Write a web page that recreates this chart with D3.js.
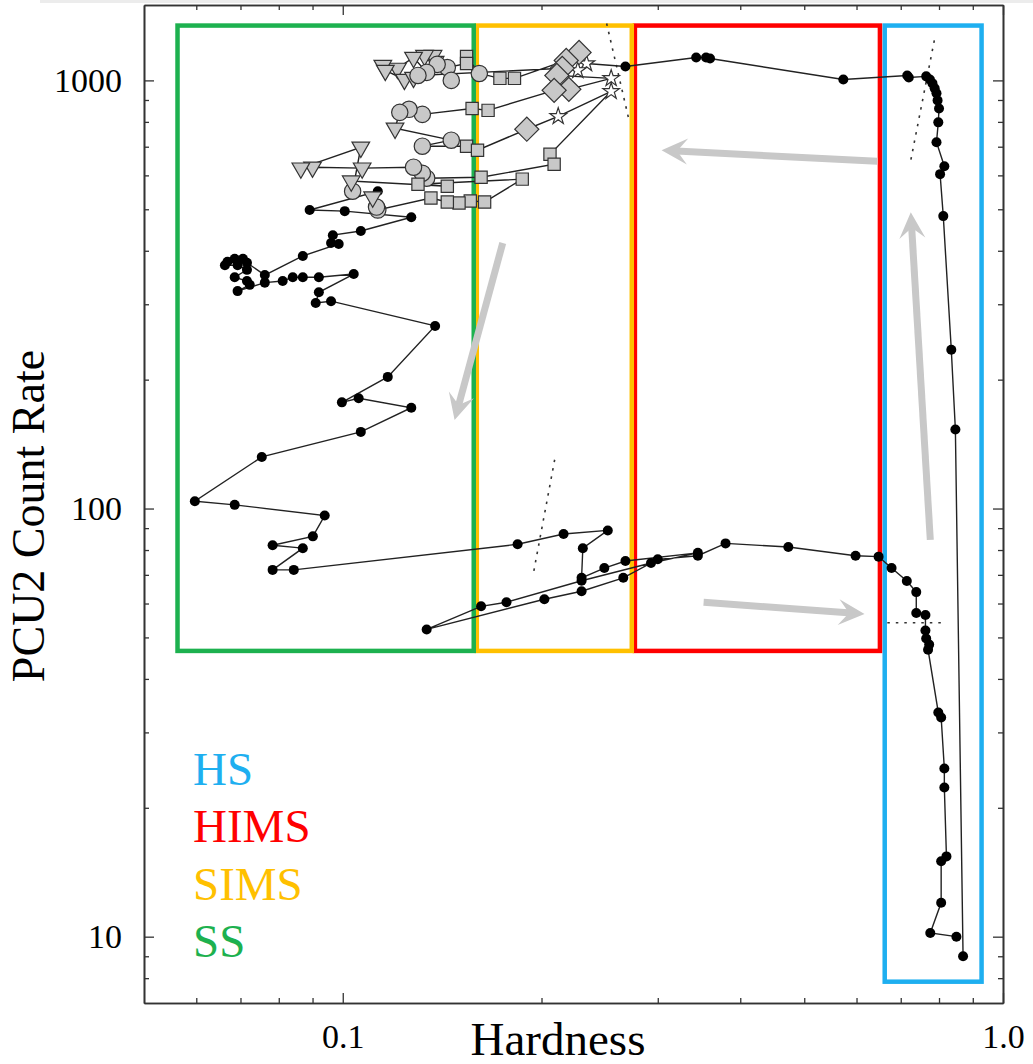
<!DOCTYPE html>
<html>
<head>
<meta charset="utf-8">
<script src="https://cdn.jsdelivr.net/npm/d3@7"></script>
<style>
  body { margin: 0; background: #fff; }
  svg { display: block; font-family: "Liberation Serif", "Times New Roman", serif; }
</style>
</head>
<body>
<div id="chart"></div>
<script>
// ---------- data: [hardness, PCU2 count rate] in time order ----------
const hsRise = [
  [0.870, 9.0], [0.847, 153], [0.835, 235], [0.812, 482], [0.803, 604], [0.815, 630],
  [0.793, 717], [0.798, 798], [0.800, 860], [0.796, 898], [0.793, 933], [0.788, 958],
  [0.782, 984], [0.775, 1005], [0.765, 1022]
];
const himsRise = [
  [0.720, 1016], [0.716, 1027], [0.573, 1005], [0.360, 1125], [0.355, 1131], [0.343, 1131], [0.268, 1078]
];
// soft / intermediate observations with their marker type
const softStates = [
  [0.234, 1095, "star"], [0.227, 1055, "star"], [0.228, 1162, "dia"], [0.218, 1113, "dia"],
  [0.182, 1011, "sq"], [0.173, 1011, "sq"], [0.161, 1038, "circ"], [0.154, 1137, "sq"],
  [0.154, 1095, "sq"], [0.144, 1072, "circ"], [0.146, 1000, "circ"], [0.138, 1107, "tri"],
  [0.137, 1143, "tri"], [0.133, 1143, "tri"], [0.139, 1090, "circ"], [0.134, 1044, "circ"],
  [0.128, 1131, "tri"], [0.121, 1067, "tri"], [0.115, 1084, "tri"], [0.116, 1055, "tri"],
  [0.124, 1005, "tri"], [0.128, 1016, "tri"], [0.130, 1027, "circ"], [0.215, 1067, "dia"],
  [0.211, 1027, "dia"], [0.255, 1011, "star"], [0.220, 953, "dia"], [0.209, 948, "dia"],
  [0.166, 851, "sq"], [0.157, 860, "sq"], [0.132, 833, "circ"], [0.126, 856, "circ"],
  [0.122, 842, "circ"], [0.120, 773, "tri"], [0.146, 725, "circ"], [0.132, 702, "circ"],
  [0.154, 702, "sq"], [0.160, 687, "sq"], [0.190, 769, "dia"], [0.212, 824, "star"],
  [0.255, 943, "star"], [0.206, 672, "sq"], [0.209, 637, "sq"], [0.162, 594, "sq"],
  [0.134, 591, "circ"], [0.132, 607, "circ"], [0.128, 627, "circ"], [0.107, 624, "tri"],
  [0.090, 627, "tri"], [0.0864, 624, "tri"], [0.1065, 698, "tri"], [0.1035, 551, "circ"],
  [0.103, 582, "tri"], [0.144, 566, "sq"], [0.130, 572, "sq"], [0.187, 588, "sq"],
  [0.164, 520, "sq"], [0.156, 523, "sq"], [0.150, 517, "sq"], [0.144, 520, "sq"],
  [0.136, 531, "sq"], [0.113, 498, "circ"], [0.1125, 506, "circ"], [0.111, 534, "tri"]
];
const ssDecay = [
  [0.113, 551], [0.0891, 498], [0.1007, 495], [0.127, 479], [0.1065, 445], [0.0966, 435],
  [0.096, 417], [0.0986, 415], [0.087, 389], [0.0762, 351], [0.0716, 375], [0.0706, 383],
  [0.0686, 383], [0.0669, 377], [0.0663, 370], [0.0693, 370], [0.0716, 361], [0.0686, 347],
  [0.0716, 340], [0.0723, 333], [0.0693, 322], [0.0762, 337], [0.0811, 340], [0.084, 347],
  [0.087, 347], [0.092, 347], [0.1039, 353], [0.092, 320], [0.091, 302], [0.096, 305],
  [0.138, 267], [0.117, 203], [0.0997, 177], [0.1057, 181], [0.127, 172], [0.1065, 151],
  [0.0754, 132], [0.0597, 104], [0.0686, 102], [0.0939, 96.3], [0.0901, 86.1], [0.0783, 82.1],
  [0.087, 80.8], [0.0783, 71.9], [0.0843, 71.9]
];
const himsDecay = [
  [0.184, 82.5], [0.216, 87.2], [0.252, 88.9], [0.231, 80.8], [0.230, 68.9], [0.249, 72.6],
  [0.268, 75.4], [0.345, 78.8], [0.293, 74.6], [0.230, 67.8], [0.177, 60.4], [0.162, 59.1],
  [0.134, 52.2], [0.202, 61.4], [0.230, 64.1], [0.266, 68.9], [0.300, 76.1], [0.345, 77.6],
  [0.380, 82.9], [0.473, 81.3], [0.598, 77.6], [0.648, 77.2]
];
const hsDecay = [
  [0.678, 72.6], [0.715, 67.7], [0.739, 63.8], [0.739, 57.0], [0.763, 56.4], [0.763, 51.9],
  [0.765, 49.7], [0.773, 48.1], [0.770, 46.8], [0.798, 33.4], [0.806, 32.5], [0.815, 24.7],
  [0.815, 22.3], [0.821, 15.4], [0.806, 15.0], [0.806, 12.0], [0.776, 10.2], [0.850, 10.0]
];

// state boxes
const stateNames = ["HS", "HIMS", "SIMS", "SS"];
const stateColors = ["#1eaff0", "#ff0000", "#ffc000", "#1db14f"];
const boxHardLo = [0.662, 0.277, 0.1596, 0.0562];
const boxHardHi = [0.928, 0.651, 0.274, 0.1579];
const boxRateLo = [7.85, 46.5, 46.5, 46.5];
const boxRateHi = [1343, 1343, 1343, 1343];

// direction arrows [hardness0, rate0, hardness1, rate1]
const arrows = [
  [0.645, 647, 0.304, 687],
  [0.776, 84.5, 0.725, 492],
  [0.352, 60.4, 0.617, 56.7],
  [0.1747, 417, 0.1477, 161]
];
// dotted guide lines
const guides = [
  [0.251, 1358, 0.271, 815],
  [0.787, 1240, 0.725, 651],
  [0.2094, 130, 0.1947, 71.4],
  [0.668, 54.1, 0.815, 54.1]
];

const xMajor = [0.1, 1.0];
const xMinor = [0.06, 0.07, 0.08, 0.09, 0.2, 0.3, 0.4, 0.5, 0.6, 0.7, 0.8, 0.9];
const yMajor = [10, 100, 1000];
const yMinor = [8, 9, 20, 30, 40, 50, 60, 70, 80, 90, 200, 300, 400, 500, 600, 700, 800, 900];

// ---------- chart ----------
const W = 1033, H = 1064;
const x0 = 144, x1 = 1003, yTop = 5, yBot = 1003;

const svg = d3.select("#chart").append("svg")
  .attr("width", W).attr("height", H);

svg.append("rect").attr("x", 40).attr("y", 0).attr("width", W - 40).attr("height", 3).attr("fill", "#ececec");

const x = d3.scaleLog().domain([0.05, 1.0]).range([x0, x1]);
const y = d3.scaleLog().domain([7, 1500]).range([yBot, yTop]);

// axes, ticks inward on all four sides
const frameColor = "#333";
function styleAxis(g) {
  g.selectAll("path.domain").attr("stroke", frameColor).attr("stroke-width", 1.6);
  g.selectAll(".tick line").attr("stroke", frameColor).attr("stroke-width", 1.3);
}
const fmtX = d3.format(".1f");
svg.append("g").attr("transform", `translate(0,${yBot})`)
  .call(d3.axisBottom(x).tickValues(xMajor).tickSize(-10).tickSizeOuter(0).tickPadding(21).tickFormat(fmtX))
  .call(styleAxis)
  .call(g => g.selectAll("text").attr("font-size", 34).attr("fill", "#000").attr("font-family", "Liberation Serif, serif"));
svg.append("g").attr("transform", `translate(0,${yBot})`)
  .call(d3.axisBottom(x).tickValues(xMinor).tickSize(-5).tickSizeOuter(0).tickFormat(""))
  .call(styleAxis);
svg.append("g").attr("transform", `translate(0,${yTop})`)
  .call(d3.axisTop(x).tickValues(xMajor).tickSize(-10).tickSizeOuter(0).tickFormat(""))
  .call(styleAxis);
svg.append("g").attr("transform", `translate(0,${yTop})`)
  .call(d3.axisTop(x).tickValues(xMinor).tickSize(-5).tickSizeOuter(0).tickFormat(""))
  .call(styleAxis);
svg.append("g").attr("transform", `translate(${x0},0)`)
  .call(d3.axisLeft(y).tickValues(yMajor).tickSize(-10).tickSizeOuter(0).tickPadding(22).tickFormat(d3.format("d")))
  .call(styleAxis)
  .call(g => g.selectAll("text").attr("font-size", 34).attr("fill", "#000").attr("font-family", "Liberation Serif, serif"));
svg.append("g").attr("transform", `translate(${x0},0)`)
  .call(d3.axisLeft(y).tickValues(yMinor).tickSize(-5).tickSizeOuter(0).tickFormat(""))
  .call(styleAxis);
svg.append("g").attr("transform", `translate(${x1},0)`)
  .call(d3.axisRight(y).tickValues(yMajor).tickSize(-10).tickSizeOuter(0).tickFormat(""))
  .call(styleAxis);
svg.append("g").attr("transform", `translate(${x1},0)`)
  .call(d3.axisRight(y).tickValues(yMinor).tickSize(-5).tickSizeOuter(0).tickFormat(""))
  .call(styleAxis);

// axis titles
svg.append("text")
  .attr("x", 558).attr("y", 1055)
  .attr("text-anchor", "middle")
  .attr("font-size", 47)
  .text("Hardness");
svg.append("text")
  .attr("transform", "translate(44,516) rotate(-90)")
  .attr("text-anchor", "middle")
  .attr("font-size", 46)
  .text("PCU2 Count Rate");

// state boxes
stateNames.forEach((s, i) => {
  svg.append("rect")
    .attr("x", x(boxHardLo[i]))
    .attr("y", y(boxRateHi[i]))
    .attr("width", x(boxHardHi[i]) - x(boxHardLo[i]))
    .attr("height", y(boxRateLo[i]) - y(boxRateHi[i]))
    .attr("fill", "none")
    .attr("stroke", stateColors[i])
    .attr("stroke-width", 4.5);
});

// legend
stateNames.forEach((s, i) => {
  svg.append("text")
    .attr("x", 193)
    .attr("y", 785 + i * 57.3)
    .attr("font-size", 47)
    .attr("fill", stateColors[i])
    .text(s);
});

// dotted guides
guides.forEach(g => {
  svg.append("line")
    .attr("x1", x(g[0])).attr("y1", y(g[1]))
    .attr("x2", x(g[2])).attr("y2", y(g[3]))
    .attr("stroke", "#333")
    .attr("stroke-width", 1.6)
    .attr("stroke-dasharray", "2.5,6");
});

// grey arrows
arrows.forEach(a => {
  const ax0 = x(a[0]), ay0 = y(a[1]), ax1 = x(a[2]), ay1 = y(a[3]);
  const ang = Math.atan2(ay1 - ay0, ax1 - ax0);
  const L = 26, Wd = 13;
  const ux = Math.cos(ang), uy = Math.sin(ang);
  const px = -uy, py = ux;
  svg.append("line")
    .attr("x1", ax0).attr("y1", ay0)
    .attr("x2", ax1 - ux * 10).attr("y2", ay1 - uy * 10)
    .attr("stroke", "#c8c8c8")
    .attr("stroke-width", 7);
  const head = [
    [ax1, ay1],
    [ax1 - ux * L + px * Wd, ay1 - uy * L + py * Wd],
    [ax1 - ux * L * 0.6, ay1 - uy * L * 0.6],
    [ax1 - ux * L - px * Wd, ay1 - uy * L - py * Wd]
  ];
  svg.append("path")
    .attr("d", "M" + head.map(p => p.join(",")).join("L") + "Z")
    .attr("fill", "#c8c8c8");
});

// connecting track
const track = [].concat(hsRise, himsRise, softStates, ssDecay, himsDecay, hsDecay);
svg.append("path")
  .datum(track)
  .attr("fill", "none")
  .attr("stroke", "#222")
  .attr("stroke-width", 1.4)
  .attr("d", d3.line().x(d => x(d[0])).y(d => y(d[1])));

// markers
const blackDots = [].concat(hsRise, himsRise, ssDecay, himsDecay, hsDecay);
svg.append("g").selectAll("circle")
  .data(blackDots)
  .join("circle")
  .attr("cx", d => x(d[0]))
  .attr("cy", d => y(d[1]))
  .attr("r", 5)
  .attr("fill", "#000");

const symbolOf = {
  tri: { type: d3.symbolTriangle, size: 135, rot: 180, fill: "#c8c8c8" },
  circ: { type: d3.symbolCircle, size: 210, rot: 0, fill: "#c8c8c8" },
  sq: { type: d3.symbolSquare, size: 150, rot: 0, fill: "#c8c8c8" },
  dia: { type: d3.symbolSquare, size: 290, rot: 45, fill: "#c8c8c8" },
  star: { type: d3.symbolStar, size: 85, rot: 0, fill: "#fff" }
};
svg.append("g").selectAll("path")
  .data(softStates)
  .join("path")
  .attr("transform", d => `translate(${x(d[0])},${y(d[1])}) rotate(${symbolOf[d[2]].rot})`)
  .attr("d", d => d3.symbol().type(symbolOf[d[2]].type).size(symbolOf[d[2]].size)())
  .attr("fill", d => symbolOf[d[2]].fill)
  .attr("stroke", "#333")
  .attr("stroke-width", 1.2);
</script>
</body>
</html>
